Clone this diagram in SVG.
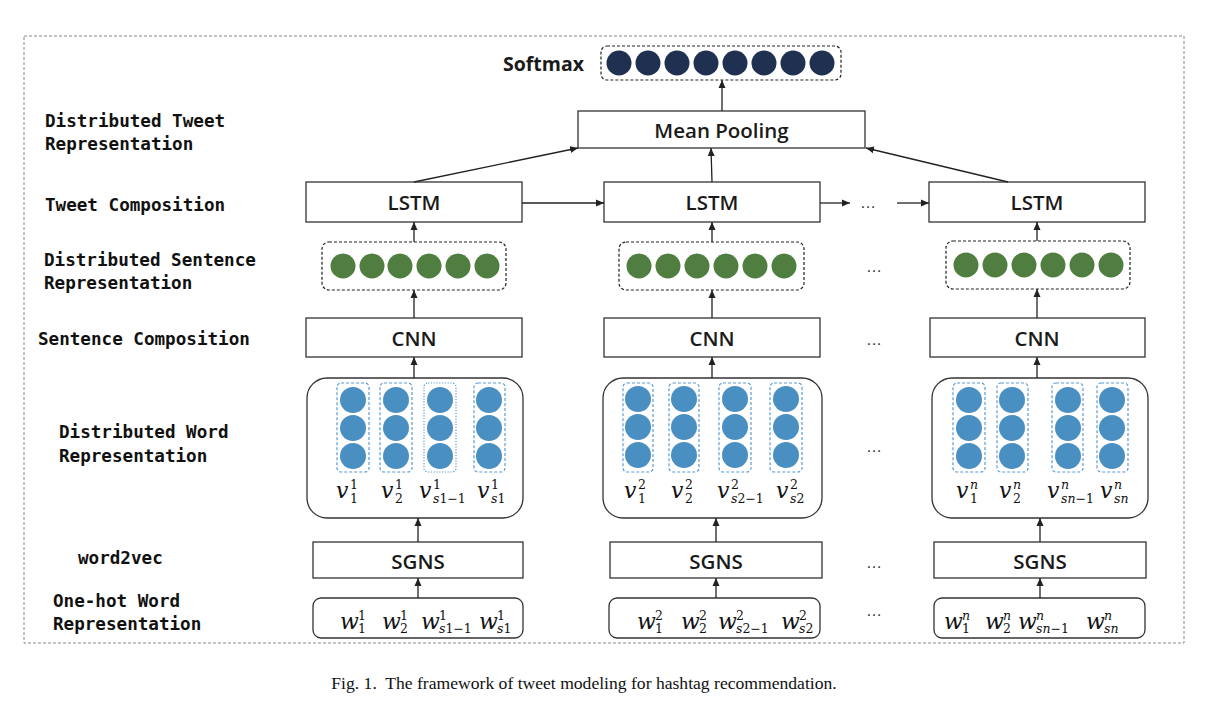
<svg xmlns="http://www.w3.org/2000/svg" width="1208" height="701" viewBox="0 0 1208 701">
<style>
.lbl{font-family:"DejaVu Sans Mono","Liberation Mono",monospace;font-weight:bold;font-size:17.6px;fill:#111}
.bx{fill:#fff;stroke:#333;stroke-width:1.3}
.bt{font-family:"Open Sans","Noto Sans",sans-serif;font-weight:600;font-size:20.5px;fill:#1a1a1a;text-anchor:middle}
.dash{fill:#fff;stroke:#222;stroke-width:1.2;stroke-dasharray:3,2}
.col{fill:none;stroke:#5b9bd5;stroke-width:1.2;stroke-dasharray:3,2}
.dot{fill:none;stroke:#5b9bd5;stroke-width:1.2;stroke-dasharray:1.2,1.6}
.nv{fill:#1f3050}
.gr{fill:#507e40}
.bl{fill:#4a8fc1}
.cn line{stroke:#222;stroke-width:1.3;marker-end:url(#ah)}
.mv{font-family:"DejaVu Serif","Liberation Serif",serif;font-style:italic;font-size:22px;fill:#111}
.ms{font-family:"DejaVu Serif","Liberation Serif",serif;font-size:12.5px;fill:#111}
.ms .i{font-style:italic}
.ell{font-family:"Liberation Sans",sans-serif;font-size:16px;fill:#333}
</style>
<defs>
<marker id="ah" markerUnits="userSpaceOnUse" markerWidth="9" markerHeight="8" refX="8" refY="4" orient="auto">
<path d="M0,0.5 L8,4 L0,7.5 z" fill="#222"/>
</marker>
<g id="bc"><circle cx="0" cy="0" r="13" class="bl"/><circle cx="0" cy="28" r="13" class="bl"/><circle cx="0" cy="56" r="13" class="bl"/></g>
</defs>
<rect x="0" y="0" width="1208" height="701" fill="#fff"/>
<rect x="24" y="36" width="1160" height="607" fill="none" stroke="#888" stroke-width="1" stroke-dasharray="3,2"/>

<g id="labels">
<text class="lbl" x="45" y="127">Distributed Tweet</text>
<text class="lbl" x="45" y="150">Representation</text>
<text class="lbl" x="45" y="211">Tweet Composition</text>
<text class="lbl" x="44" y="266">Distributed Sentence</text>
<text class="lbl" x="44" y="289">Representation</text>
<text class="lbl" x="38" y="345">Sentence Composition</text>
<text class="lbl" x="59" y="438">Distributed Word</text>
<text class="lbl" x="59" y="462">Representation</text>
<text class="lbl" x="78" y="564">word2vec</text>
<text class="lbl" x="53" y="607">One-hot Word</text>
<text class="lbl" x="53" y="630">Representation</text>
</g>

<g id="softmax">
<text x="503" y="71" font-family="'Open Sans','Noto Sans',sans-serif" font-weight="bold" font-size="19.5" fill="#1a1a1a">Softmax</text>
<rect class="dash" x="601" y="46" width="240" height="34" rx="6"/>
<circle class="nv" cx="619" cy="63" r="12.5"/><circle class="nv" cx="648" cy="63" r="12.5"/>
<circle class="nv" cx="677" cy="63" r="12.5"/><circle class="nv" cx="706" cy="63" r="12.5"/>
<circle class="nv" cx="735" cy="63" r="12.5"/><circle class="nv" cx="764" cy="63" r="12.5"/>
<circle class="nv" cx="793" cy="63" r="12.5"/><circle class="nv" cx="822" cy="63" r="12.5"/>
</g>

<g id="meanpool">
<rect class="bx" x="578" y="111" width="287" height="37"/>
<text class="bt" x="721.5" y="138" font-size="21">Mean Pooling</text>
</g>

<g id="lstm1"><rect class="bx" x="306" y="182" width="216" height="40"/><text class="bt" x="414" y="210">LSTM</text></g>
<g id="lstm2"><rect class="bx" x="604" y="182" width="216" height="40"/><text class="bt" x="712" y="210">LSTM</text></g>
<g id="lstm3"><rect class="bx" x="929" y="182" width="216" height="40"/><text class="bt" x="1037" y="210">LSTM</text></g>

<g id="sent1">
<rect class="dash" x="322" y="242" width="184" height="48" rx="7"/>
<circle class="gr" cx="343" cy="266" r="12.5"/><circle class="gr" cx="372" cy="266" r="12.5"/><circle class="gr" cx="400" cy="266" r="12.5"/>
<circle class="gr" cx="429" cy="266" r="12.5"/><circle class="gr" cx="458" cy="266" r="12.5"/><circle class="gr" cx="487" cy="266" r="12.5"/>
</g>
<g id="sent2">
<rect class="dash" x="619" y="242" width="185" height="48" rx="7"/>
<circle class="gr" cx="639" cy="266" r="12.5"/><circle class="gr" cx="668" cy="266" r="12.5"/><circle class="gr" cx="697" cy="266" r="12.5"/>
<circle class="gr" cx="726" cy="266" r="12.5"/><circle class="gr" cx="755" cy="266" r="12.5"/><circle class="gr" cx="784" cy="266" r="12.5"/>
</g>
<g id="sent3">
<rect class="dash" x="946" y="241" width="184" height="48" rx="7"/>
<circle class="gr" cx="966" cy="265" r="12.5"/><circle class="gr" cx="995" cy="265" r="12.5"/><circle class="gr" cx="1024" cy="265" r="12.5"/>
<circle class="gr" cx="1053" cy="265" r="12.5"/><circle class="gr" cx="1082" cy="265" r="12.5"/><circle class="gr" cx="1111" cy="265" r="12.5"/>
</g>

<g id="cnn1"><rect class="bx" x="306" y="318" width="216" height="39"/><text class="bt" x="414" y="346">CNN</text></g>
<g id="cnn2"><rect class="bx" x="604" y="318" width="216" height="39"/><text class="bt" x="712" y="346">CNN</text></g>
<g id="cnn3"><rect class="bx" x="930" y="318" width="215" height="39"/><text class="bt" x="1037" y="346">CNN</text></g>

<g id="word1">
<rect class="bx" x="307" y="378" width="216" height="140" rx="20"/>
<rect class="col" x="337" y="383" width="32" height="89" rx="4"/>
<rect class="col" x="380" y="383" width="32" height="89" rx="4"/>
<rect class="dot" x="424" y="383" width="32" height="89" rx="4"/>
<rect class="col" x="474" y="383" width="31" height="89" rx="4"/>
<use href="#bc" x="353" y="400"/><use href="#bc" x="396" y="400"/><use href="#bc" x="440" y="400"/><use href="#bc" x="489" y="400"/>
<text class="mv" x="336" y="498">v</text><text class="ms" x="350" y="489">1</text><text class="ms" x="350" y="503">1</text>
<text class="mv" x="381" y="498">v</text><text class="ms" x="395" y="489">1</text><text class="ms" x="395" y="503">2</text>
<text class="mv" x="419" y="498">v</text><text class="ms" x="433" y="489">1</text><text class="ms" x="433" y="503"><tspan class="i">s</tspan>1−1</text>
<text class="mv" x="477" y="498">v</text><text class="ms" x="491" y="489">1</text><text class="ms" x="491" y="503"><tspan class="i">s</tspan>1</text>
</g>
<g id="word2">
<rect class="bx" x="603" y="378" width="219" height="140" rx="20"/>
<rect class="col" x="623" y="383" width="30" height="89" rx="4"/>
<rect class="col" x="669" y="383" width="30" height="89" rx="4"/>
<rect class="col" x="719" y="383" width="32" height="89" rx="4"/>
<rect class="col" x="770" y="383" width="32" height="89" rx="4"/>
<use href="#bc" x="638" y="399"/><use href="#bc" x="684" y="399"/><use href="#bc" x="735" y="399"/><use href="#bc" x="786" y="399"/>
<text class="mv" x="624" y="498">v</text><text class="ms" x="638" y="489">2</text><text class="ms" x="638" y="503">1</text>
<text class="mv" x="671" y="498">v</text><text class="ms" x="685" y="489">2</text><text class="ms" x="685" y="503">2</text>
<text class="mv" x="717" y="498">v</text><text class="ms" x="731" y="489">2</text><text class="ms" x="731" y="503"><tspan class="i">s</tspan>2−1</text>
<text class="mv" x="776" y="498">v</text><text class="ms" x="790" y="489">2</text><text class="ms" x="790" y="503"><tspan class="i">s</tspan>2</text>
</g>
<g id="word3">
<rect class="bx" x="932" y="378" width="216" height="140" rx="20"/>
<rect class="col" x="953" y="383" width="32" height="89" rx="4"/>
<rect class="col" x="997" y="383" width="31" height="89" rx="4"/>
<rect class="col" x="1052" y="383" width="31" height="89" rx="4"/>
<rect class="col" x="1097" y="383" width="31" height="89" rx="4"/>
<use href="#bc" x="969" y="400"/><use href="#bc" x="1012" y="400"/><use href="#bc" x="1068" y="400"/><use href="#bc" x="1112" y="400"/>
<text class="mv" x="956" y="498">v</text><text class="ms" x="970" y="489" font-style="italic">n</text><text class="ms" x="970" y="503">1</text>
<text class="mv" x="999" y="498">v</text><text class="ms" x="1013" y="489" font-style="italic">n</text><text class="ms" x="1013" y="503">2</text>
<text class="mv" x="1047" y="498">v</text><text class="ms" x="1061" y="489" font-style="italic">n</text><text class="ms" x="1061" y="503"><tspan class="i">sn</tspan>−1</text>
<text class="mv" x="1100" y="498">v</text><text class="ms" x="1114" y="489" font-style="italic">n</text><text class="ms" x="1114" y="503"><tspan class="i">sn</tspan></text>
</g>

<g id="sgns1"><rect class="bx" x="313" y="542" width="210" height="36"/><text class="bt" x="418" y="569">SGNS</text></g>
<g id="sgns2"><rect class="bx" x="610" y="542" width="212" height="36"/><text class="bt" x="716" y="569">SGNS</text></g>
<g id="sgns3"><rect class="bx" x="934" y="542" width="212" height="36"/><text class="bt" x="1040" y="569">SGNS</text></g>

<g id="onehot1">
<rect class="bx" x="313" y="598" width="210" height="40" rx="8"/>
<text class="mv" x="340" y="629" font-size="20">w</text><text class="ms" x="358" y="620">1</text><text class="ms" x="358" y="633">1</text>
<text class="mv" x="382" y="629" font-size="20">w</text><text class="ms" x="400" y="620">1</text><text class="ms" x="400" y="633">2</text>
<text class="mv" x="421" y="629" font-size="20">w</text><text class="ms" x="439" y="620">1</text><text class="ms" x="439" y="633"><tspan class="i">s</tspan>1−1</text>
<text class="mv" x="479" y="629" font-size="20">w</text><text class="ms" x="497" y="620">1</text><text class="ms" x="497" y="633"><tspan class="i">s</tspan>1</text>
</g>
<g id="onehot2">
<rect class="bx" x="609" y="598" width="211" height="40" rx="8"/>
<text class="mv" x="637" y="629" font-size="20">w</text><text class="ms" x="655" y="620">2</text><text class="ms" x="655" y="633">1</text>
<text class="mv" x="681" y="629" font-size="20">w</text><text class="ms" x="699" y="620">2</text><text class="ms" x="699" y="633">2</text>
<text class="mv" x="718" y="629" font-size="20">w</text><text class="ms" x="736" y="620">2</text><text class="ms" x="736" y="633"><tspan class="i">s</tspan>2−1</text>
<text class="mv" x="781" y="629" font-size="20">w</text><text class="ms" x="799" y="620">2</text><text class="ms" x="799" y="633"><tspan class="i">s</tspan>2</text>
</g>
<g id="onehot3">
<rect class="bx" x="934" y="598" width="211" height="40" rx="8"/>
<text class="mv" x="944" y="629" font-size="20">w</text><text class="ms" x="962" y="620" font-style="italic">n</text><text class="ms" x="962" y="633">1</text>
<text class="mv" x="985" y="629" font-size="20">w</text><text class="ms" x="1003" y="620" font-style="italic">n</text><text class="ms" x="1003" y="633">2</text>
<text class="mv" x="1018" y="629" font-size="20">w</text><text class="ms" x="1036" y="620" font-style="italic">n</text><text class="ms" x="1036" y="633"><tspan class="i">sn</tspan>−1</text>
<text class="mv" x="1086" y="629" font-size="20">w</text><text class="ms" x="1104" y="620" font-style="italic">n</text><text class="ms" x="1104" y="633"><tspan class="i">sn</tspan></text>
</g>

<g id="ellipses">
<text class="ell" x="860" y="208">…</text>
<text class="ell" x="866" y="272">…</text>
<text class="ell" x="866" y="345">…</text>
<text class="ell" x="866" y="452">…</text>
<text class="ell" x="866" y="568">…</text>
<text class="ell" x="866" y="616">…</text>
</g>

<g id="connectors" class="cn">
<line x1="722" y1="111" x2="722" y2="80"/>
<line x1="414" y1="182" x2="578" y2="148"/>
<line x1="712" y1="182" x2="711" y2="148"/>
<line x1="1008" y1="182" x2="866" y2="148"/>
<line x1="522" y1="203" x2="604" y2="203"/>
<line x1="820" y1="203" x2="850" y2="203"/>
<line x1="897" y1="203" x2="929" y2="203"/>
<line x1="414" y1="242" x2="414" y2="222"/>
<line x1="712" y1="242" x2="712" y2="222"/>
<line x1="1037" y1="241" x2="1037" y2="222"/>
<line x1="414" y1="318" x2="414" y2="290"/>
<line x1="712" y1="318" x2="712" y2="290"/>
<line x1="1037" y1="318" x2="1037" y2="289"/>
<line x1="414" y1="378" x2="414" y2="357"/>
<line x1="712" y1="378" x2="712" y2="357"/>
<line x1="1037" y1="378" x2="1037" y2="357"/>
<line x1="418" y1="542" x2="418" y2="518"/>
<line x1="716" y1="542" x2="716" y2="518"/>
<line x1="1040" y1="542" x2="1040" y2="518"/>
<line x1="418" y1="598" x2="418" y2="578"/>
<line x1="716" y1="598" x2="716" y2="578"/>
<line x1="1040" y1="598" x2="1040" y2="578"/>
</g>

<text x="584" y="689" text-anchor="middle" font-family="'Liberation Serif',serif" font-size="17.6" fill="#111" style="white-space:pre">Fig. 1.  The framework of tweet modeling for hashtag recommendation.</text>
</svg>
